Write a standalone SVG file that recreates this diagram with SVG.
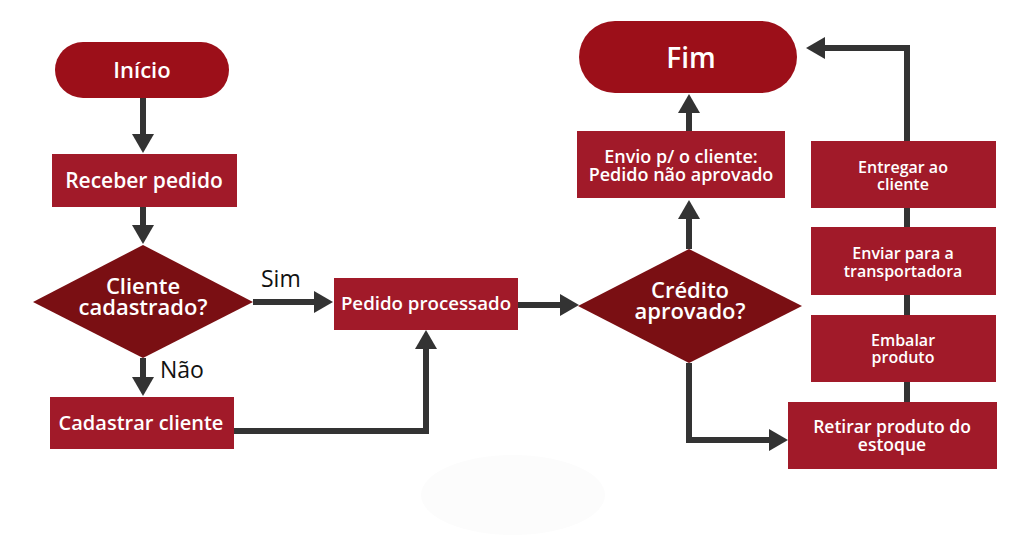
<svg xmlns="http://www.w3.org/2000/svg" width="1024" height="536" viewBox="0 0 1024 536">
<style>
.pill{fill:#9c0f19}
.box{fill:#a11a29}
.dia{fill:#7a0f13}
.t{fill:#fff;font-family:"Open Sans",Lato,"Liberation Sans",sans-serif;font-weight:600;text-anchor:middle}
.lbl{fill:#111;font-family:"Open Sans",Lato,"Liberation Sans",sans-serif;font-weight:400;font-size:23px}
.ln{fill:none;stroke:#333;stroke-width:6}
</style>
<defs>
<marker id="ah" markerUnits="userSpaceOnUse" markerWidth="20" markerHeight="22" refX="0" refY="11" orient="auto" overflow="visible">
<path d="M0,0 L19,11 L0,22 z" fill="#333"/>
</marker>
</defs>
<rect width="1024" height="536" fill="#fff"/>
<ellipse cx="513" cy="495" rx="92" ry="40" fill="#fcfcfc"/>
<g id="connectors">
<path class="ln" d="M143,98 V134" marker-end="url(#ah)"/>
<path class="ln" d="M143,207 V225" marker-end="url(#ah)"/>
<path class="ln" d="M253,302 H314" marker-end="url(#ah)"/>
<path class="ln" d="M143,358 V377" marker-end="url(#ah)"/>
<path class="ln" d="M234,431 H426 V349" marker-end="url(#ah)"/>
<path class="ln" d="M518,305 H560" marker-end="url(#ah)"/>
<path class="ln" d="M689,249 V219" marker-end="url(#ah)"/>
<path class="ln" d="M689,131 V113" marker-end="url(#ah)"/>
<path class="ln" d="M907,141 V48 H825" marker-end="url(#ah)"/>
<path class="ln" d="M689,363 V440 H769" marker-end="url(#ah)"/>
<path class="ln" d="M907,208 V402"/>
<text class="lbl" x="261" y="287">Sim</text>
<text class="lbl" x="160" y="378">Não</text>
</g>
<g id="inicio">
<rect class="pill" x="55" y="42" width="174" height="56" rx="28"/>
<text class="t" x="142" y="78" font-size="22">Início</text>
</g>
<g id="receber">
<rect class="box" x="52" y="154" width="185" height="53"/>
<text class="t" x="144" y="188" font-size="21">Receber pedido</text>
</g>
<g id="cliente">
<polygon class="dia" points="33,302 143,245 253,302 143,358"/>
<text class="t" x="143" y="294" font-size="22"><tspan x="143">Cliente</tspan><tspan x="143" dy="21">cadastrado?</tspan></text>
</g>
<g id="cadastrar">
<rect class="box" x="50" y="397" width="184" height="52"/>
<text class="t" x="141" y="430" font-size="20">Cadastrar cliente</text>
</g>
<g id="processado">
<rect class="box" x="334" y="278" width="184" height="52"/>
<text class="t" x="426" y="310" font-size="18.7">Pedido processado</text>
</g>
<g id="credito">
<polygon class="dia" points="578,306 689,249 802,306 689,363"/>
<text class="t" x="690" y="298" font-size="22"><tspan x="690">Crédito</tspan><tspan x="690" dy="21">aprovado?</tspan></text>
</g>
<g id="envio">
<rect class="box" x="577" y="131" width="208" height="67"/>
<text class="t" x="681" y="163" font-size="18"><tspan x="681">Envio p/ o cliente:</tspan><tspan x="681" dy="18">Pedido não aprovado</tspan></text>
</g>
<g id="fim">
<rect class="pill" x="579" y="21" width="218" height="72" rx="36"/>
<text class="t" x="691" y="68" font-size="28">Fim</text>
</g>
<g id="entregar">
<rect class="box" x="811" y="141" width="185" height="67"/>
<text class="t" x="903" y="173" font-size="16"><tspan x="903">Entregar ao</tspan><tspan x="903" dy="17">cliente</tspan></text>
</g>
<g id="enviar">
<rect class="box" x="811" y="227" width="185" height="68"/>
<text class="t" x="903" y="259" font-size="16"><tspan x="903">Enviar para a</tspan><tspan x="903" dy="18">transportadora</tspan></text>
</g>
<g id="embalar">
<rect class="box" x="811" y="315" width="185" height="67"/>
<text class="t" x="903" y="346" font-size="16"><tspan x="903">Embalar</tspan><tspan x="903" dy="17">produto</tspan></text>
</g>
<g id="retirar">
<rect class="box" x="788" y="402" width="209" height="67"/>
<text class="t" x="892" y="433" font-size="17.5"><tspan x="892">Retirar produto do</tspan><tspan x="892" dy="18">estoque</tspan></text>
</g>
</svg>
